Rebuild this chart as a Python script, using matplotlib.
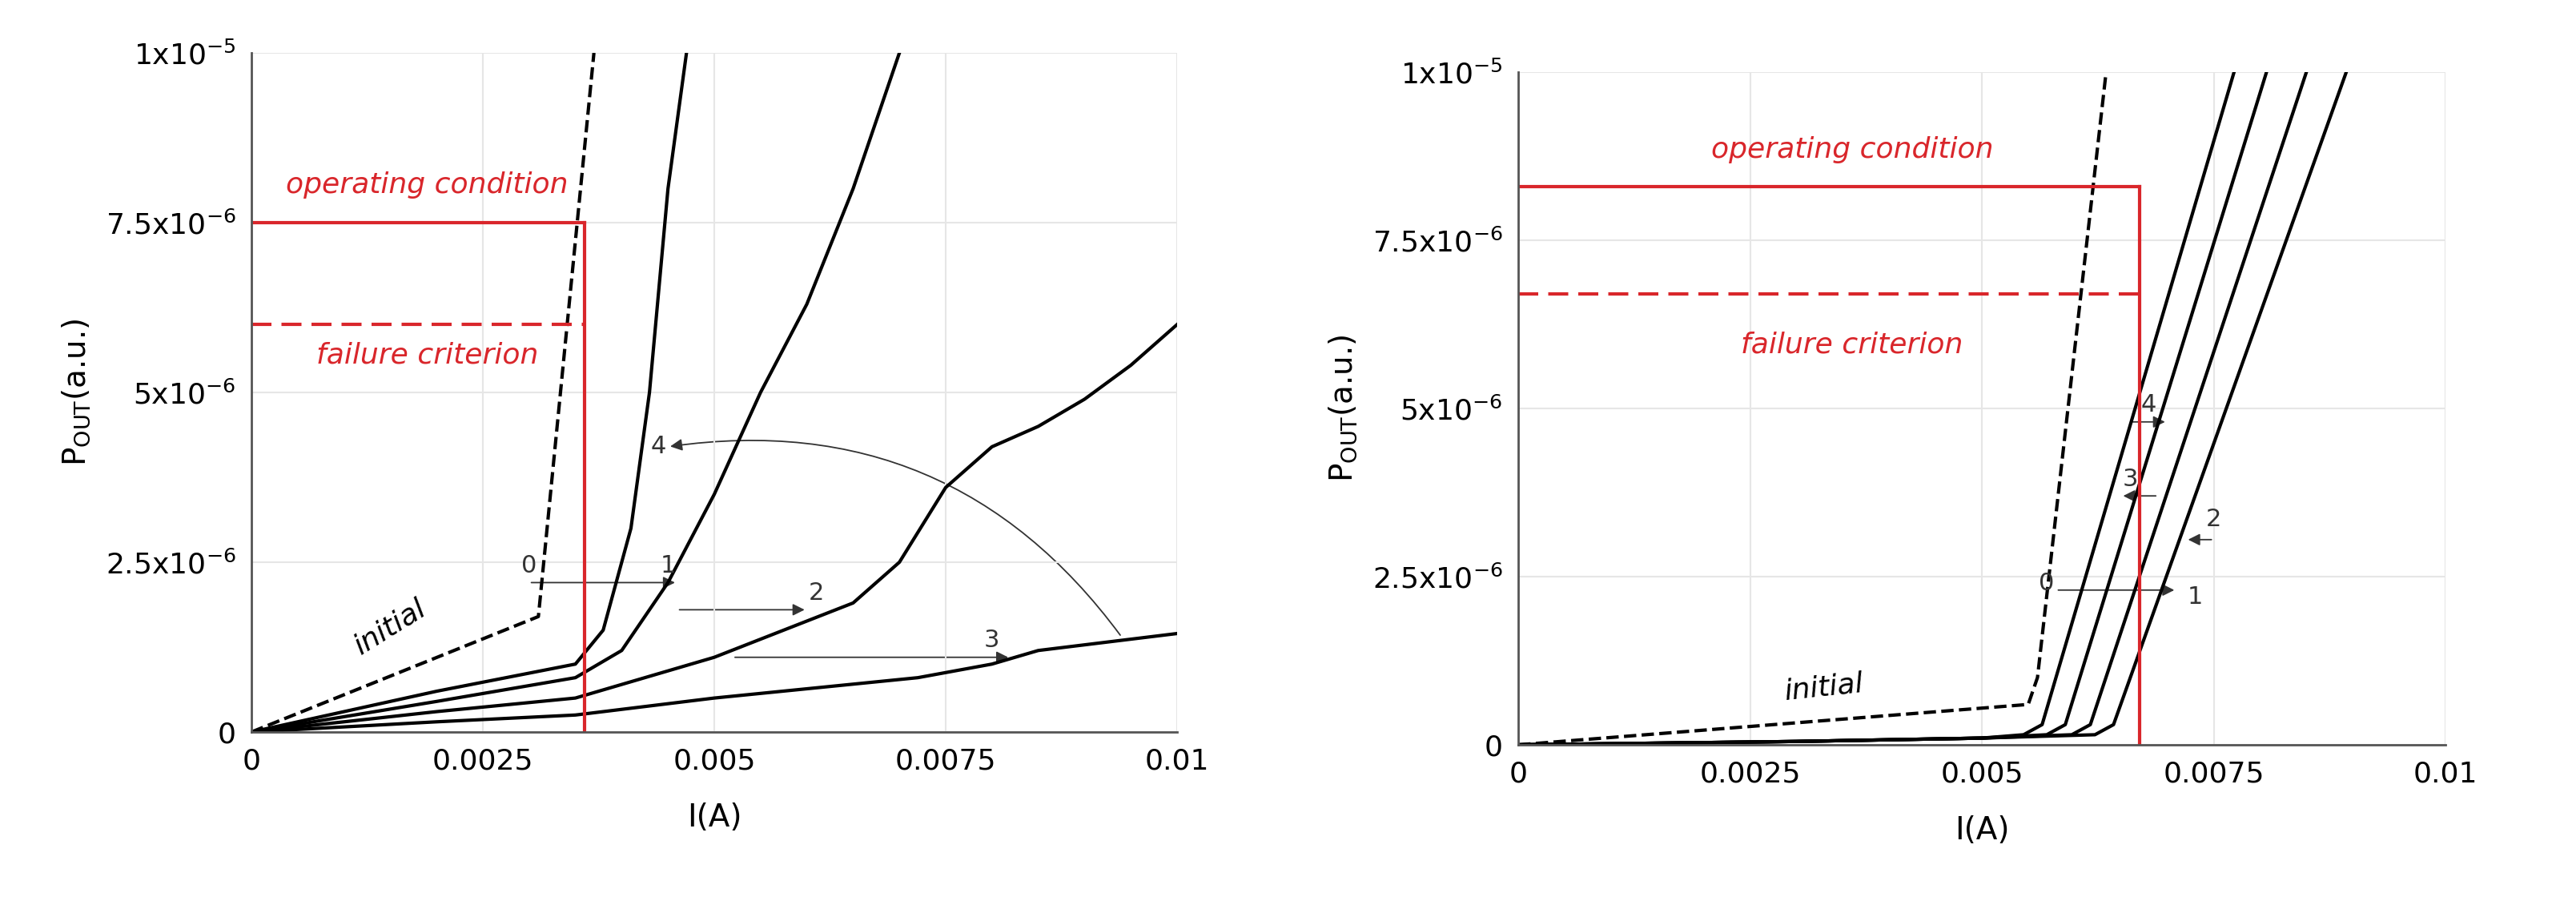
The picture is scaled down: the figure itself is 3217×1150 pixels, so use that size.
import numpy as np
import matplotlib.pyplot as plt
from matplotlib.patches import FancyArrowPatch

# left panel (x in A, y in units of 1e-6)
L_init_x = [0, 0.0031, 0.0037]
L_init_y = [0, 1.7, 10]
L_c1_x = [0, 0.001, 0.002, 0.0035, 0.0038, 0.0041, 0.0043, 0.0045, 0.0047]
L_c1_y = [0, 0.3, 0.6, 1.0, 1.5, 3.0, 5.0, 8.0, 10]
L_c2_x = [0, 0.002, 0.0035, 0.004, 0.0045, 0.005, 0.0055, 0.006, 0.0065, 0.0070]
L_c2_y = [0, 0.45, 0.8, 1.2, 2.2, 3.5, 5.0, 6.3, 8.0, 10]
L_c3_x = [0, 0.002, 0.0035, 0.005, 0.0065, 0.007, 0.0075, 0.008, 0.0085, 0.009, 0.0095, 0.01]
L_c3_y = [0, 0.3, 0.5, 1.1, 1.9, 2.5, 3.6, 4.2, 4.5, 4.9, 5.4, 6.0]
L_c4_x = [0, 0.002, 0.0035, 0.005, 0.0072, 0.008, 0.0085, 0.01]
L_c4_y = [0, 0.15, 0.25, 0.5, 0.8, 1.0, 1.2, 1.45]
L_oper, L_fail, L_xop = 7.5, 6.0, 0.0036

# right panel
R_init_x = [0, 0.0055, 0.0056, 0.00634]
R_init_y = [0, 0.6, 1.0, 10]
R_base_x = [0, 0.003, 0.005]
R_base_y = [0, 0.05, 0.1]
R_knee_x = [0.00565, 0.0059, 0.00617, 0.00642]
R_top_x = [0.00772, 0.00807, 0.0085, 0.00893]
R_oper, R_fail, R_xop = 8.3, 6.7, 0.0067

red = '#d9262b'
fs = 26

fig = plt.figure(figsize=(32.17, 11.5), dpi=100)
axL = fig.add_axes([314/3217, 1 - 914/1150, 1156/3217, 848/1150])
axR = fig.add_axes([1896/3217, 1 - 930/1150, 1158/3217, 840/1150])

yt = [0, 2.5, 5, 7.5, 10]
ytl = ['0', r'2.5x10$^{-6}$', r'5x10$^{-6}$', r'7.5x10$^{-6}$', r'1x10$^{-5}$']
xt = [0, 0.0025, 0.005, 0.0075, 0.01]
xtl = ['0', '0.0025', '0.005', '0.0075', '0.01']

for ax in (axL, axR):
    ax.set_xlim(0, 0.01)
    ax.set_ylim(0, 10)
    ax.set_xticks(xt)
    ax.set_xticklabels(xtl, fontsize=fs)
    ax.set_yticks(yt)
    ax.set_yticklabels(ytl, fontsize=fs)
    ax.tick_params(length=0, pad=14)
    ax.grid(color='#e6e6e6', lw=1.5)
    for s in ('top', 'right'):
        ax.spines[s].set_visible(False)
    for s in ('left', 'bottom'):
        ax.spines[s].set_color('#555555')
        ax.spines[s].set_linewidth(2)
    ax.set_xlabel('I(A)', fontsize=fs + 2, labelpad=25)
    ax.set_ylabel(r'P$_{\mathrm{OUT}}$(a.u.)', fontsize=fs + 2, labelpad=12)

def arrow(ax, x0, y0, x1, y1, rad=0.0):
    ax.add_patch(FancyArrowPatch((x0, y0), (x1, y1), arrowstyle='-|>', mutation_scale=22,
                                 lw=1.3, color='#333333', connectionstyle=f'arc3,rad={rad}'))

# left
ax = axL
ax.plot(L_init_x, L_init_y, 'k--', lw=3)
for xs, ys in ((L_c1_x, L_c1_y), (L_c2_x, L_c2_y), (L_c3_x, L_c3_y), (L_c4_x, L_c4_y)):
    ax.plot(xs, ys, 'k-', lw=3)
ax.plot([0, L_xop], [L_oper, L_oper], color=red, lw=3)
ax.plot([0, L_xop], [L_fail, L_fail], color=red, lw=3, ls=(0, (6, 3)))
ax.plot([L_xop, L_xop], [0, L_oper], color=red, lw=3)
ax.text(0.0019, 7.85, 'operating condition', color=red, fontsize=fs, style='italic', ha='center', va='bottom')
ax.text(0.0019, 5.55, 'failure criterion', color=red, fontsize=fs, style='italic', ha='center', va='center')
ax.text(0.0015, 1.55, 'initial', fontsize=fs, style='italic', ha='center', va='center', rotation=32)
arrow(ax, 0.0030, 2.2, 0.0046, 2.2)
arrow(ax, 0.0046, 1.8, 0.0060, 1.8)
arrow(ax, 0.0052, 1.1, 0.0082, 1.1)
arrow(ax, 0.0094, 1.4, 0.0045, 4.2, rad=0.3)
for t, x, y in (('0', 0.0030, 2.45), ('1', 0.0045, 2.45), ('2', 0.0061, 2.05), ('3', 0.0080, 1.35), ('4', 0.0044, 4.2)):
    ax.text(x, y, t, fontsize=fs - 4, ha='center', va='center', color='#333333')

# right
ax = axR
ax.plot(R_init_x, R_init_y, 'k--', lw=3)
for xk, xt_ in zip(R_knee_x, R_top_x):
    ax.plot(R_base_x + [xk - 0.0002, xk, xt_], R_base_y + [0.15, 0.3, 10], 'k-', lw=3)
ax.plot([0, R_xop], [R_oper, R_oper], color=red, lw=3)
ax.plot([0, R_xop], [R_fail, R_fail], color=red, lw=3, ls=(0, (6, 3)))
ax.plot([R_xop, R_xop], [0, R_oper], color=red, lw=3)
ax.text(0.0036, 8.85, 'operating condition', color=red, fontsize=fs, style='italic', ha='center', va='center')
ax.text(0.0036, 5.95, 'failure criterion', color=red, fontsize=fs, style='italic', ha='center', va='center')
ax.text(0.0033, 0.85, 'initial', fontsize=fs, style='italic', ha='center', va='center', rotation=6)
arrow(ax, 0.0058, 2.3, 0.0071, 2.3)
arrow(ax, 0.0075, 3.05, 0.0072, 3.05)
arrow(ax, 0.0069, 3.7, 0.0065, 3.7)
arrow(ax, 0.0066, 4.8, 0.0070, 4.8)
for t, x, y in (('0', 0.0057, 2.4), ('1', 0.0073, 2.2), ('2', 0.0075, 3.35), ('3', 0.0066, 3.95), ('4', 0.0068, 5.05)):
    ax.text(x, y, t, fontsize=fs - 4, ha='center', va='center', color='#333333')

fig.savefig('out.png', dpi=100, facecolor='white')
